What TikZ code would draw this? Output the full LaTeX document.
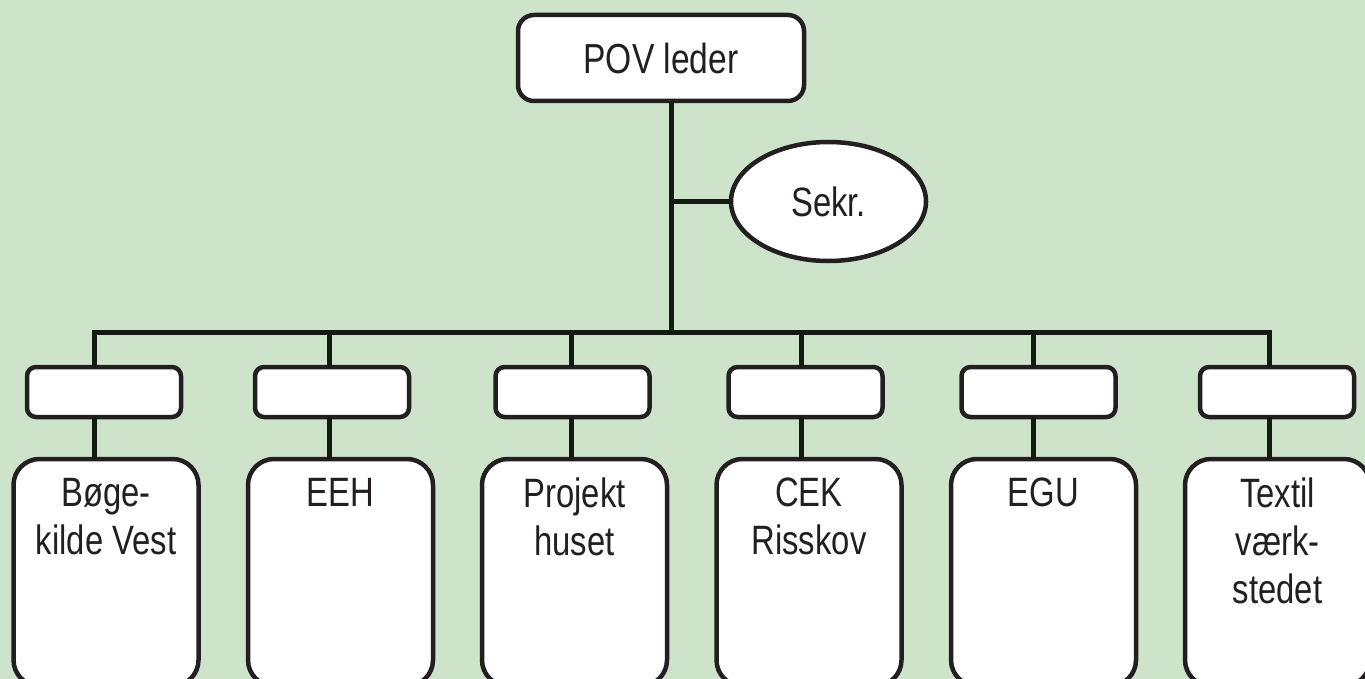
\documentclass[tikz,border=0pt]{standalone}
\usepackage{fontspec}
\setmainfont{Liberation Sans}[FakeStretch=0.80]
\usetikzlibrary{shapes.geometric,calc}
\definecolor{bg}{RGB}{206,228,202}
\definecolor{ink}{RGB}{35,31,32}
\definecolor{wire}{RGB}{18,26,18}
\tikzset{
  box/.style={draw=ink, line width=4.5pt, fill=white, inner sep=0pt, outer sep=0pt},
  smallbox/.style={box, rounded corners=9pt, minimum width=154pt, minimum height=50pt},
  bigbox/.style={box, rounded corners=26pt, minimum width=185pt, minimum height=227pt},
  bigtext/.style={text=ink, font=\fontsize{41pt}{48pt}\selectfont, align=center, anchor=north, inner sep=0pt},
  wireline/.style={draw=wire, line width=5pt},
}
\begin{document}
\begin{tikzpicture}[x=1pt,y=-1pt]
\useasboundingbox (0,0) rectangle (1365,679);
\clip (0,0) rectangle (1365,679);
\fill[bg] (0,0) rectangle (1365,679);

% top
\node[box, rounded corners=16pt, minimum width=286pt, minimum height=86pt,
      text=ink, font=\fontsize{42pt}{48pt}\selectfont] (pov) at (661,58) {POV leder};
\node[box, ellipse, minimum width=195pt, minimum height=119pt,
      text=ink, font=\fontsize{41pt}{48pt}\selectfont] (sekr) at (828.5,201.5) {Sekr.};

\coordinate (main) at (671,332);
\coordinate (d1) at (94,332);
\coordinate (d2) at (329,332);
\coordinate (d3) at (571,332);
\coordinate (d4) at (801,332);
\coordinate (d5) at (1033,332);
\coordinate (d6) at (1269,332);

% small boxes
\node[smallbox] (s1) at (104,392) {};
\node[smallbox] (s2) at (332,392) {};
\node[smallbox] (s3) at (572.5,392) {};
\node[smallbox] (s4) at (805.5,392) {};
\node[smallbox] (s5) at (1038.5,392) {};
\node[smallbox] (s6) at (1277,392) {};

% big boxes
\node[bigbox] (b1) at (106,572.5) {};
\node[bigbox] (b2) at (340.5,572.5) {};
\node[bigbox] (b3) at (574.5,572.5) {};
\node[bigbox] (b4) at (809,572.5) {};
\node[bigbox] (b5) at (1043.5,572.5) {};
\node[bigbox] (b6) at (1277.5,572.5) {};

\node[bigtext] (t1) at ($(b1.north)+(0,19)$) {Bøge-\\kilde Vest};
\node[bigtext] (t2) at ($(b2.north)+(0,19)$) {EEH};
\node[bigtext] (t3) at ($(b3.north)+(0,19)$) {Projekt\\huset};
\node[bigtext] (t4) at ($(b4.north)+(0,19)$) {CEK\\Risskov};
\node[bigtext] (t5) at ($(b5.north)+(0,19)$) {EGU};
\node[bigtext] (t6) at ($(b6.north)+(0,19)$) {Textil\\værk-\\stedet};

% connectors
\draw[wireline] (pov.south -| main) -- (main);
\draw[wireline] (sekr.west -| main) -- (sekr.west);
\draw[wireline, line cap=rect] (d1) -- (d6);
\foreach \i in {1,...,6}{
  \draw[wireline] (d\i) -- (d\i |- s\i.north);
  \draw[wireline] (d\i |- s\i.south) -- (d\i |- b\i.north);
}
\end{tikzpicture}
\end{document}
